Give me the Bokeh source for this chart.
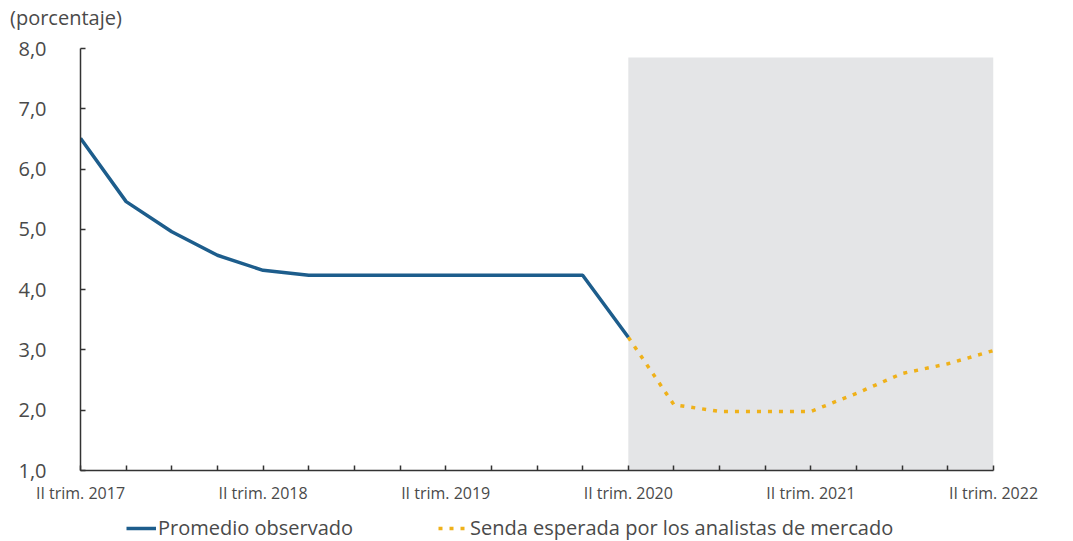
from bokeh.plotting import figure
from bokeh.layouts import column
from bokeh.models import (Range1d, FixedTicker, CustomJSTickFormatter, Legend, LegendItem,
                          BoxAnnotation, ColumnDataSource, Div)
from bokeh.embed import file_html
from bokeh.resources import INLINE

# ---- data ----
tick_labels = ["II trim. 2017", "", "", "", "II trim. 2018", "", "", "",
               "II trim. 2019", "", "", "", "II trim. 2020", "", "", "",
               "II trim. 2021", "", "", "", "II trim. 2022"]
obs_idx = list(range(0, 13))
observed = [6.51, 5.46, 4.96, 4.57, 4.32, 4.24, 4.24, 4.24, 4.24, 4.24, 4.24, 4.24, 3.21]
fc_idx = list(range(12, 21))
forecast = [3.21, 2.09, 1.98, 1.98, 1.98, 2.28, 2.61, 2.77, 2.99]
band_start = 12
band_end = 20
band_top = 7.85
y_ticks = [1, 2, 3, 4, 5, 6, 7, 8]
unit_label = "(porcentaje)"
series_names = ["Promedio observado", "Senda esperada por los analistas de mercado"]

TXT = "#4a4a4a"
FONT = "Open Sans"
BLUE = "#1d5d8c"
GOLD = "#efb11a"

# ---- unit label above the chart ----
head = Div(text=unit_label, width=1073, height=36, margin=0,
           styles={"font-family": FONT, "font-size": "20px", "color": TXT,
                   "line-height": "36px", "padding-left": "10px", "white-space": "nowrap"})

# ---- main chart ----
p = figure(width=1073, height=470, output_backend="svg", toolbar_location=None,
           x_range=Range1d(0, 20), y_range=Range1d(1, 8),
           min_border_left=80, min_border_right=80, min_border_top=12, min_border_bottom=36)
p.outline_line_color = None
p.xgrid.visible = False
p.ygrid.visible = False
p.background_fill_color = "white"

band = BoxAnnotation(left=band_start, right=band_end, bottom=1, top=band_top,
                     fill_color="#e4e5e7", fill_alpha=1.0, line_color=None, level="underlay")
p.add_layout(band)

src_o = ColumnDataSource(dict(x=obs_idx, y=observed))
src_f = ColumnDataSource(dict(x=fc_idx, y=forecast))
r_f = p.line("x", "y", source=src_f, line_color=GOLD, line_width=3.5, line_dash="4 7")
r_o = p.line("x", "y", source=src_o, line_color=BLUE, line_width=3.5)

for ax in (p.xaxis[0], p.yaxis[0]):
    ax.axis_line_color = "#333333"
    ax.axis_line_width = 1.5
    ax.major_tick_line_color = "#333333"
    ax.major_tick_line_width = 1.5
    ax.major_tick_in = 5
    ax.major_tick_out = 0
    ax.minor_tick_line_color = None
    ax.major_label_text_color = TXT
    ax.major_label_text_font = FONT

p.xaxis.ticker = FixedTicker(ticks=list(range(len(tick_labels))))
p.xaxis.major_label_overrides = {i: s for i, s in enumerate(tick_labels)}
p.xaxis.major_label_text_font_size = "16px"
p.xaxis.major_label_standoff = 11

p.yaxis.ticker = FixedTicker(ticks=y_ticks)
p.yaxis.formatter = CustomJSTickFormatter(code="return tick.toFixed(1).replace('.', ',');")
p.yaxis.major_label_text_font_size = "20px"
p.yaxis.major_label_standoff = 34

# ---- legend strip below the chart ----
q = figure(width=1073, height=35, output_backend="svg", toolbar_location=None,
           x_range=Range1d(100, 101), y_range=Range1d(100, 101),
           x_axis_location=None, y_axis_location=None,
           min_border_left=80, min_border_right=80, min_border_top=0, min_border_bottom=0)
q.outline_line_color = None
q.xgrid.visible = False
q.ygrid.visible = False
q_o = q.line("x", "y", source=src_o, line_color=BLUE, line_width=3.5)
q_f = q.line("x", "y", source=src_f, line_color=GOLD, line_width=3.5, line_dash="4 7")

legend = Legend(items=[LegendItem(label=series_names[0], renderers=[q_o]),
                       LegendItem(label=series_names[1], renderers=[q_f])],
                orientation="horizontal", location=(46, 0),
                label_text_font=FONT, label_text_font_size="20px", label_text_color=TXT,
                glyph_width=30, label_standoff=2, spacing=85, padding=2, margin=0,
                border_line_color=None, background_fill_alpha=0)
q.add_layout(legend)

layout = column(head, p, q, spacing=0)
open("out.html", "w").write(file_html(layout, INLINE))
